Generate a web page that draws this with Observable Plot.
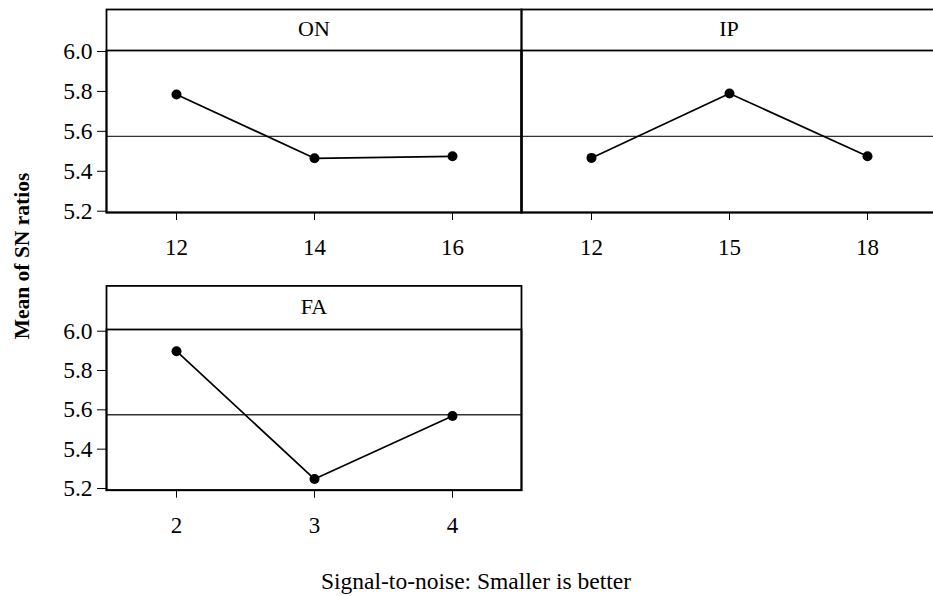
<!DOCTYPE html>
<html><head><meta charset="utf-8">
<script src="https://cdn.jsdelivr.net/npm/d3@7"></script>
<script src="https://cdn.jsdelivr.net/npm/@observablehq/plot@0.6"></script>
<style>
html,body{margin:0;padding:0;background:#fff;}
body{width:933px;height:596px;overflow:hidden;position:relative;font-family:"Liberation Serif","Times New Roman",serif;color:#000;}
#chart{position:absolute;left:0;top:0;width:933px;height:596px;overflow:hidden;}
.panel{position:absolute;}
.panel, .panel text{font-family:"Liberation Serif","Times New Roman",serif !important;}
.panel [aria-label^="y-axis"] text{font-size:23.5px;}
#ytitle{position:absolute;left:22px;top:256px;transform:translate(-50%,-50%) rotate(-90deg);font-weight:bold;font-size:21.5px;white-space:nowrap;line-height:21px;font-family:"Liberation Serif","Times New Roman",serif;}
#caption{position:absolute;left:0;width:952px;top:569px;text-align:center;font-size:23.5px;line-height:24px;white-space:nowrap;font-family:"Liberation Serif","Times New Roman",serif;}
</style></head><body>
<div id="chart"></div>
<script>
// ---- data ----
const factorNames = ["ON", "IP", "FA"];
const onLevels = [12, 14, 16];
const onMeans = [5.785, 5.465, 5.475];
const ipLevels = [12, 15, 18];
const ipMeans = [5.467, 5.790, 5.475];
const faLevels = [2, 3, 4];
const faMeans = [5.898, 5.248, 5.569];
const grandMean = 5.575;
const yTicks = [5.2, 5.4, 5.6, 5.8, 6.0];
const yTitle = "Mean of SN ratios";
const captionText = "Signal-to-noise: Smaller is better";

const chart = document.getElementById("chart");

function panel({name, levels, means, showY, left, top, width, marginLeft, stripH, yDomain, dataH}) {
  const data = levels.map((l, i) => ({level: l, mean: means[i]}));
  const marginTop = 50, marginBottom = 50;
  const svg = Plot.plot({
    width,
    height: marginTop + dataH + marginBottom,
    marginLeft, marginRight: 3, marginTop, marginBottom,
    style: {fontFamily: "'Liberation Serif', 'Times New Roman', serif", fontSize: "23px", color: "#000", background: "transparent", overflow: "visible"},
    x: {type: "point", domain: levels, padding: 0.5, tickSize: 8, tickPadding: 18, label: null},
    y: {domain: yDomain, ticks: yTicks, tickSize: 9, tickPadding: 5, label: null, tickFormat: d3.format(".1f"), axis: showY ? "left" : null},
    marks: [
      Plot.ruleY([grandMean], {stroke: "#333", strokeWidth: 1.3}),
      Plot.frame({stroke: "#000", strokeWidth: 1.8}),
      Plot.frame({stroke: "#000", strokeWidth: 1.8, insetTop: -stripH}),
      Plot.text([name], {text: d => d, frameAnchor: "top", dy: -stripH / 2 - 1, lineAnchor: "middle", fontSize: 22}),
      Plot.line(data, {x: "level", y: "mean", stroke: "#000", strokeWidth: 1.7}),
      Plot.dot(data, {x: "level", y: "mean", r: 5, fill: "#000", stroke: "none"})
    ]
  });
  svg.classList.add("panel");
  svg.style.left = left + "px";
  svg.style.top = top + "px";
  chart.appendChild(svg);
}

panel({name: factorNames[0], levels: onLevels, means: onMeans, showY: true,
  left: 36, top: 0, width: 488, marginLeft: 70, stripH: 41, yDomain: [5.1935, 6.005], dataH: 162});
panel({name: factorNames[1], levels: ipLevels, means: ipMeans, showY: false,
  left: 520, top: 0, width: 419, marginLeft: 1, stripH: 41, yDomain: [5.1935, 6.005], dataH: 162});
panel({name: factorNames[2], levels: faLevels, means: faMeans, showY: true,
  left: 36, top: 279.3, width: 488, marginLeft: 70, stripH: 43.6, yDomain: [5.1914, 6.0086], dataH: 160.7});

const yt = document.createElement("div");
yt.id = "ytitle"; yt.textContent = yTitle;
chart.appendChild(yt);
const cap = document.createElement("div");
cap.id = "caption"; cap.textContent = captionText;
chart.appendChild(cap);
</script>
</body></html>
